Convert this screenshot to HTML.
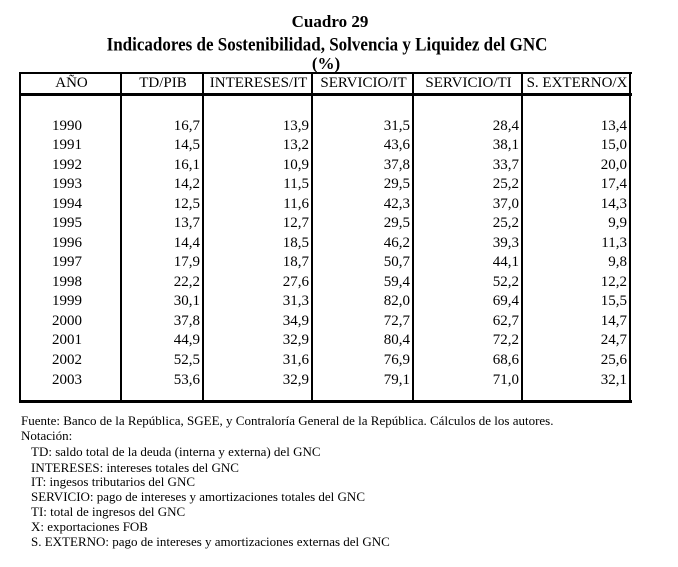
<!DOCTYPE html>
<html><head><meta charset="utf-8">
<style>
body{margin:0;background:#fff;width:678px;height:567px;position:relative;overflow:hidden;font-family:"Liberation Serif",serif;color:#000}
.t{position:absolute;white-space:nowrap;line-height:1}
.c{transform:translateX(-50%)}
.r{transform:translateX(-100%)}
.ln{position:absolute;background:#000}
.tt{font-weight:bold;font-size:17px}
.cell{font-size:15px}
.hd{font-size:15px}
.fn{font-size:13px;left:0}
</style></head><body>
<div class="t c tt" style="left:330px;top:13px">Cuadro 29</div>
<div class="t c tt" style="left:327px;top:36px;transform:translateX(-50%) scaleY(1.1)">Indicadores de Sostenibilidad, Solvencia y Liquidez del GNC</div>
<div class="t c tt" style="left:326px;top:55px">(%)</div>
<div id="tbl"></div>
<div id="notes"></div>
<script>
const years=["1990","1991","1992","1993","1994","1995","1996","1997","1998","1999","2000","2001","2002","2003"];
const headers=["AÑO","TD/PIB","INTERESES/IT","SERVICIO/IT","SERVICIO/TI","S. EXTERNO/X"];
const tdPib=["16,7","14,5","16,1","14,2","12,5","13,7","14,4","17,9","22,2","30,1","37,8","44,9","52,5","53,6"];
const interesesIt=["13,9","13,2","10,9","11,5","11,6","12,7","18,5","18,7","27,6","31,3","34,9","32,9","31,6","32,9"];
const servicioIt=["31,5","43,6","37,8","29,5","42,3","29,5","46,2","50,7","59,4","82,0","72,7","80,4","76,9","79,1"];
const servicioTi=["28,4","38,1","33,7","25,2","37,0","25,2","39,3","44,1","52,2","69,4","62,7","72,2","68,6","71,0"];
const sExterno=["13,4","15,0","20,0","17,4","14,3","9,9","11,3","9,8","12,2","15,5","14,7","24,7","25,6","32,1"];
const notes=["Fuente: Banco de la República, SGEE, y Contraloría General de la República. Cálculos de los autores.","Notación:","TD: saldo total de la deuda (interna y externa) del GNC","INTERESES: intereses totales del GNC","IT: ingesos tributarios del GNC","SERVICIO: pago de intereses y amortizaciones totales del GNC","TI: total de ingresos del GNC","X: exportaciones FOB","S. EXTERNO: pago de intereses y amortizaciones externas del GNC"];

const tbl=document.getElementById('tbl');
const cols=[20,121,203,312,413,522,630];
const top0=72,hdrBot=93,bot=400;
function line(x,y,w,h,name){const d=document.createElement('div');d.className='ln';d.style.cssText=`left:${x}px;top:${y}px;width:${w}px;height:${h}px`;


tbl.appendChild(d);}
line(19,top0,613,2,'table-top-border');
line(19,hdrBot,613,3,'header-rule');
line(19,bot,613,3,'table-bottom-border');
cols.forEach((x,i)=>line(x-1,top0,2,bot-top0+2,'column-rule'));
headers.forEach((h,i)=>{const d=document.createElement('div');d.className='t c hd';
d.style.left=((cols[i]+cols[i+1])/2+1)+'px';d.style.top=(76)+'px';d.textContent=h;


tbl.appendChild(d);});
const series=[tdPib,interesesIt,servicioIt,servicioTi,sExterno];
years.forEach((y,r)=>{const cy=126+r*19.54;
const d=document.createElement('div');d.className='t c cell';d.style.left='67px';d.style.top=(cy-7.5)+'px';d.textContent=y;


tbl.appendChild(d);
series.forEach((s,k)=>{const e=document.createElement('div');e.className='t r cell';e.style.left=(cols[k+2]-3)+'px';e.style.top=(cy-7.5)+'px';e.textContent=s[r];


tbl.appendChild(e);});});
const nt=document.getElementById('notes');
const ny=[414,429,445,461,475,490,505,520,535];
notes.forEach((n,i)=>{const d=document.createElement('div');d.className='t fn';d.style.left=(i<2?21:31)+'px';d.style.top=ny[i]+'px';d.textContent=n;


nt.appendChild(d);});
</script>
</body></html>
